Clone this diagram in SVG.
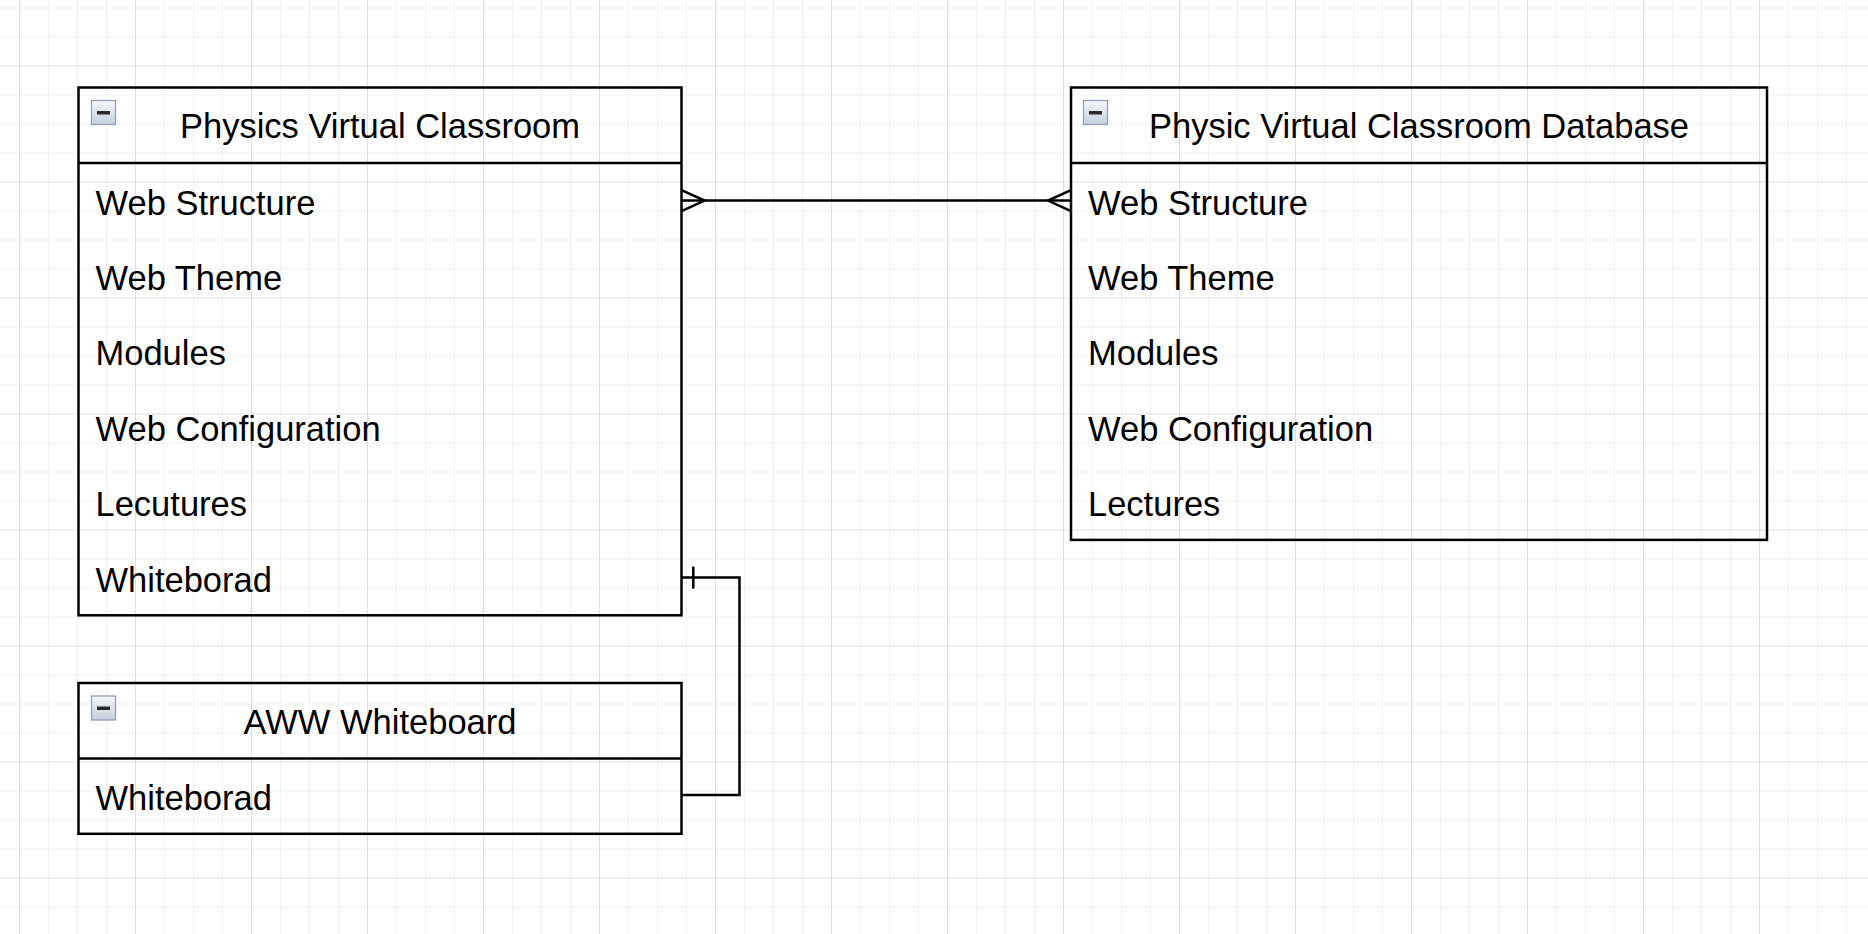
<svg xmlns="http://www.w3.org/2000/svg" width="1868" height="934" viewBox="0 0 1868 934">
<style>
.box{fill:none;stroke:#000;stroke-width:2.5}
.sep{stroke:#000;stroke-width:2.5}
.title{font-family:"Liberation Sans",Arial,Helvetica,sans-serif;font-size:34.5px;fill:#000;text-anchor:middle}
.row{font-family:"Liberation Sans",Arial,Helvetica,sans-serif;font-size:34.5px;fill:#000}
.edge{fill:none;stroke:#000;stroke-width:2.5}
.icon{fill:url(#ig);stroke:#8c9cb0;stroke-width:1.2}
.bar{fill:#2b2b2b}
</style>
<defs>
<pattern id="grid" patternUnits="userSpaceOnUse" x="19" y="65.5" width="116" height="116">
<g fill="#f1f1f1">
<rect x="29" y="0" width="1" height="116"/>
<rect x="58" y="0" width="1" height="116"/>
<rect x="87" y="0" width="1" height="116"/>
<rect x="0" y="29" width="116" height="1"/>
<rect x="0" y="58" width="116" height="1"/>
<rect x="0" y="87" width="116" height="1"/>
</g>
<g fill="#dedede">
<rect x="0" y="0" width="1" height="116"/>
<rect x="0" y="0" width="116" height="1"/>
</g>
</pattern>
<linearGradient id="ig" x1="0" y1="0" x2="0" y2="1">
<stop offset="0" stop-color="#f5f7fa"/>
<stop offset="1" stop-color="#c6d0db"/>
</linearGradient>
<marker id="many" markerUnits="userSpaceOnUse" viewBox="-30 -15 35 30" refX="0" refY="0" markerWidth="35" markerHeight="30" orient="auto-start-reverse" overflow="visible">
<path d="M0,-10.5 L-23,0 L0,10.5" fill="none" stroke="#000" stroke-width="2.5"/>
</marker>
<marker id="one" markerUnits="userSpaceOnUse" viewBox="-30 -15 35 30" refX="0" refY="0" markerWidth="35" markerHeight="30" orient="auto-start-reverse" overflow="visible">
<path d="M-11.8,-11 L-11.8,11" fill="none" stroke="#000" stroke-width="2.5"/>
</marker>
</defs>
<rect x="0" y="0" width="1868" height="934" fill="#ffffff"/>
<rect x="0" y="0" width="1868" height="934" fill="url(#grid)"/>

<g id="connectors">
<path class="edge" d="M681.5,200.6 H1071" marker-start="url(#many)" marker-end="url(#many)"/>
<path class="edge" d="M681.5,577.6 H739.5 V795 H681.5" marker-start="url(#one)"/>
</g>

<g id="physics-virtual-classroom">
<rect class="box" x="78.5" y="87.5" width="603" height="527.8"/>
<line class="sep" x1="78.5" y1="162.9" x2="681.5" y2="162.9"/>
<rect class="icon" x="91.5" y="100.5" width="24" height="24"/>
<rect class="bar" x="97" y="111" width="13" height="3.5"/>
<text class="title" x="380" y="138">Physics Virtual Classroom</text>
<text class="row" x="95.5" y="214.5">Web Structure</text>
<text class="row" x="95.5" y="290">Web Theme</text>
<text class="row" x="95.5" y="365.4">Modules</text>
<text class="row" x="95.5" y="440.8">Web Configuration</text>
<text class="row" x="95.5" y="516.2">Lecutures</text>
<text class="row" x="95.5" y="591.6">Whiteborad</text>
</g>

<g id="physic-virtual-classroom-database">
<rect class="box" x="1071" y="87.5" width="696" height="452.4"/>
<line class="sep" x1="1071" y1="162.9" x2="1767" y2="162.9"/>
<rect class="icon" x="1083.5" y="100.5" width="24" height="24"/>
<rect class="bar" x="1089" y="111" width="13" height="3.5"/>
<text class="title" x="1419" y="138">Physic Virtual Classroom Database</text>
<text class="row" x="1088" y="214.5">Web Structure</text>
<text class="row" x="1088" y="290">Web Theme</text>
<text class="row" x="1088" y="365.4">Modules</text>
<text class="row" x="1088" y="440.8">Web Configuration</text>
<text class="row" x="1088" y="516.2">Lectures</text>
</g>

<g id="aww-whiteboard">
<rect class="box" x="78.5" y="683" width="603" height="150.8"/>
<line class="sep" x1="78.5" y1="758.4" x2="681.5" y2="758.4"/>
<rect class="icon" x="91.5" y="696" width="24" height="24"/>
<rect class="bar" x="97" y="706.5" width="13" height="3.5"/>
<text class="title" x="380" y="733.5">AWW Whiteboard</text>
<text class="row" x="95.5" y="810">Whiteborad</text>
</g>
</svg>
